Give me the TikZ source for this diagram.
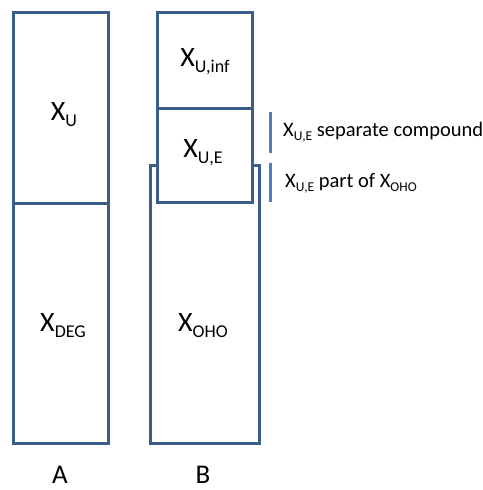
\documentclass[tikz,border=0pt]{standalone}
\usepackage{fontspec}
\setmainfont{Carlito}
\definecolor{boxblue}{HTML}{3A5F8C}
\definecolor{barblue}{HTML}{4F81BD}
% subscripts for the large and the small labels
\newcommand\bsub[1]{\raisebox{-6pt}{\fontsize{18}{18}\selectfont #1}}
\newcommand\ssub[1]{\raisebox{-4pt}{\fontsize{13.5}{13.5}\selectfont #1}}
\begin{document}
\begin{tikzpicture}[x=1pt,y=-1pt,
  box/.style={draw=boxblue, line width=3pt, fill=white, inner sep=0pt, anchor=north west},
  bar/.style={draw=barblue, line width=3pt},
  big/.style={font=\fontsize{28}{28}\selectfont, inner sep=0pt},
  note/.style={font=\fontsize{20.5}{20.5}\selectfont, inner sep=0pt, anchor=west}]
\useasboundingbox (0,0) rectangle (482,490);
% column A
\node[box, minimum width=95pt, minimum height=431pt] (colA) at (12,11) {};
\draw[draw=boxblue, line width=3pt] (colA.west |- 0,203) coordinate (dl) -- (colA.east |- 0,203) coordinate (dr);
\node[big] (xu) at (64,115) {X\bsub{U}};
\node[big] (xdeg) at (63,326) {X\bsub{DEG}};
% column B
\node[box, minimum width=109pt, minimum height=278pt] (oho) at (149,164) {};
\node[box, minimum width=95pt, minimum height=94pt] (ue) at (156,107) {};
\node[box, minimum width=95pt, minimum height=96pt] (uinf) at (156,11) {};
\node[big] (xuinf) at (205,62) {X\bsub{U,inf}};
\node[big] (xue) at (203,153) {X\bsub{U,E}};
\node[big] (xoho) at (203,326) {X\bsub{OHO}};
% column captions
\node[big, font=\fontsize{27}{27}\selectfont, anchor=base] (capA) at (60,483) {A};
\node[big, font=\fontsize{27}{27}\selectfont, anchor=base] (capB) at (203,483) {B};
% side bars and notes
\coordinate (b1t) at (270,112);
\coordinate (b1b) at (270,153);
\coordinate (b2t) at (270,163);
\coordinate (b2b) at (270,202);
\draw[bar] (b1t) -- (b1b);
\draw[bar] (b2t) -- (b2b);
\node[note] (sep) at (283,132) {X\ssub{U,E} separate compound};
\node[note] (part) at (285,183) {X\ssub{U,E} part of X\ssub{OHO}};
\end{tikzpicture}
\end{document}
